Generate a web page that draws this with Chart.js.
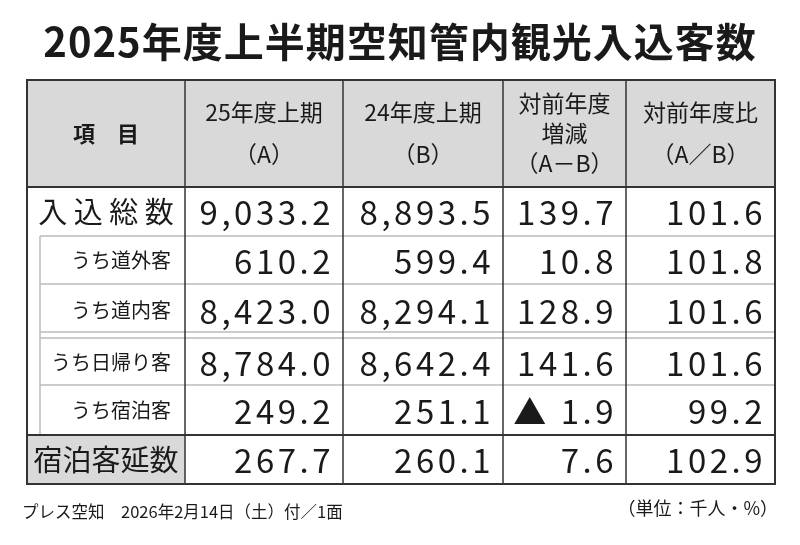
<!DOCTYPE html>
<html><head><meta charset="utf-8">
<script src="https://cdn.jsdelivr.net/npm/chart.js@4"></script>
<style>html,body{margin:0;padding:0;background:#fff}#c{display:block}</style>
</head><body>
<canvas id="c" width="800" height="545"></canvas>
<script>
const title = "2025年度上半期空知管内観光入込客数";
const headers = [["項　目"], ["25年度上期", "（A）"], ["24年度上期", "（B）"], ["対前年度", "増減", "（A－B）"], ["対前年度比", "（A／B）"]];
const rowLabels = ["入 込 総 数", "うち道外客", "うち道内客", "うち日帰り客", "うち宿泊客", "宿泊客延数"];
const colA = [9033.2, 610.2, 8423.0, 8784.0, 249.2, 267.7];
const colB = [8893.5, 599.4, 8294.1, 8642.4, 251.1, 260.1];
const colDiff = [139.7, 10.8, 128.9, 141.6, -1.9, 7.6];
const colRatio = [101.6, 101.8, 101.6, 101.6, 99.2, 102.9];
const source = "プレス空知　2026年2月14日（土）付／1面";
const unit = "（単位：千人・%）";

const layout = { colEdges:[27,185,343,503,626,775], rowEdges:[80,187,236,284,336,385,435,484] };
const F = '"Noto Sans CJK JP","Noto Sans",sans-serif';
const fmt = v => v.toLocaleString('en-US',{minimumFractionDigits:1,maximumFractionDigits:1});
const fmtDiff = v => v < 0 ? "▲ " + fmt(-v) : fmt(v);

const tablePlugin = {
  id:'table',
  afterDraw(chart){
    const ctx = chart.ctx, xs = chart.scales.x, ys = chart.scales.y;
    const X = v => xs.getPixelForValue(v), Y = v => ys.getPixelForValue(v);
    const cx = layout.colEdges.map(X), ry = layout.rowEdges.map(Y);
    ctx.save();
    ctx.fillStyle='#fff'; ctx.fillRect(0,0,chart.width,chart.height);
    ctx.fillStyle='#1a1a1a'; ctx.textAlign='center'; ctx.textBaseline='middle';
    ctx.font='bold 40px '+F; ctx.letterSpacing='1px'; ctx.fillText(title, X(400), Y(42));
    ctx.letterSpacing='0px';
    ctx.fillStyle='#d9d9d9'; ctx.fillRect(cx[0],ry[0],cx[5]-cx[0],ry[1]-ry[0]);
    ctx.fillRect(cx[0],ry[6],cx[1]-cx[0],ry[7]-ry[6]);
    ctx.fillStyle='#1a1a1a';
    headers.forEach((h,i)=>{
      const mx=(cx[i]+cx[i+1])/2, my=(ry[0]+ry[1])/2;
      const lh = h.length===3?30:42;
      h.forEach((t,j)=>{ ctx.font=(i===0?'bold 22px ':'23px ')+F; ctx.fillText(t,mx,my+(j-(h.length-1)/2)*lh); });
    });
    const cols=[colA.map(fmt),colB.map(fmt),colDiff.map(fmtDiff),colRatio.map(fmt)];
    const rowsIdx=[[1,2],[2,3],[3,4],[4,5],[5,6],[6,7]];
    rowLabels.forEach((lab,r)=>{
      const [a,b]=rowsIdx[r]; const my=(ry[a]+ry[b])/2 + (r===3?2:0);
      ctx.letterSpacing='0px';
      if(r===0||r===5){ ctx.font='29px '+F; ctx.textAlign='center'; ctx.fillText(lab,(cx[0]+cx[1])/2,my); }
      else { ctx.font='20px '+F; ctx.textAlign='right'; ctx.fillText(lab,cx[1]-14,my); }
      ctx.textAlign='right'; ctx.font='33px '+F; ctx.letterSpacing='3.5px';
      cols.forEach((c,ci)=>{ ctx.fillText(c[r],cx[ci+2]-9,my+1); });
    });
    ctx.letterSpacing='0px';
    ctx.strokeStyle='#bbb'; ctx.lineWidth=1.5;
    const inner=X(40);
    [2,3,5].forEach(k=>{ctx.beginPath();ctx.moveTo(inner,ry[k]);ctx.lineTo(cx[5],ry[k]);ctx.stroke();});
    ctx.beginPath();ctx.moveTo(inner,ry[4]-4);ctx.lineTo(cx[5],ry[4]-4);ctx.stroke();
    ctx.beginPath();ctx.moveTo(inner,ry[4]+2);ctx.lineTo(cx[5],ry[4]+2);ctx.stroke();
    ctx.beginPath();ctx.moveTo(inner,ry[2]);ctx.lineTo(inner,ry[6]);ctx.stroke();
    ctx.strokeStyle='#333'; ctx.lineWidth=2;
    ctx.strokeRect(cx[0],ry[0],cx[5]-cx[0],ry[7]-ry[0]);
    [1,6].forEach(k=>{ctx.beginPath();ctx.moveTo(cx[0],ry[k]);ctx.lineTo(cx[5],ry[k]);ctx.stroke();});
    ctx.lineWidth=1.5;
    [1,2,3,4].forEach(k=>{ctx.beginPath();ctx.moveTo(cx[k],ry[0]);ctx.lineTo(cx[k],ry[7]);ctx.stroke();});
    ctx.fillStyle='#1a1a1a'; ctx.font='16.5px '+F; ctx.textAlign='left';
    ctx.fillText(source,X(22),Y(512));
    ctx.font='18px '+F; ctx.textAlign='right'; ctx.fillText(unit,X(778),Y(508));
    ctx.restore();
  }
};

new Chart(document.getElementById('c'),{
  type:'scatter',
  data:{datasets:[{data:[]}]},
  options:{responsive:false,animation:false,
    layout:{padding:0},
    plugins:{legend:{display:false},tooltip:{enabled:false}},
    scales:{x:{type:'linear',min:0,max:800,display:false},
            y:{type:'linear',min:0,max:545,reverse:true,display:false}}},
  plugins:[tablePlugin]
});
</script>
</body></html>
